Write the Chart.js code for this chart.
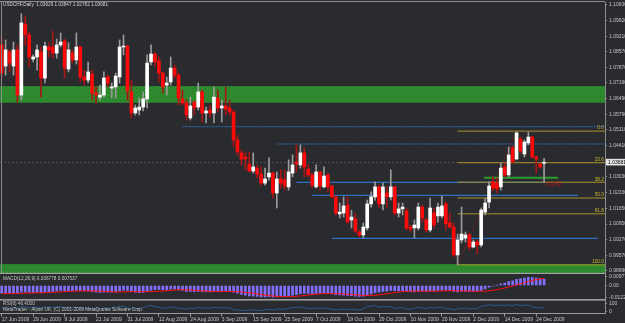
<!DOCTYPE html>
<html>
<head>
<meta charset="utf-8">
<script src="https://cdn.jsdelivr.net/npm/chart.js@4.4.1/dist/chart.umd.min.js"></script>
<style>
  html, body { margin: 0; padding: 0; background: #2a2b2e; }
  #wrap { position: relative; width: 625px; height: 323px; background: #2a2b2e; overflow: hidden; }
  .pane { position: absolute; left: 0; width: 625px; }
</style>
</head>
<body>
<div id="wrap">
  <div class="pane" style="top:0;height:274px"><canvas id="main"></canvas></div>
  <div class="pane" style="top:274px;height:25px"><canvas id="macd"></canvas></div>
  <div class="pane" style="top:299px;height:24px"><canvas id="rsi"></canvas></div>
</div>
<script>
// ---- USDCHF daily, 17 Jun 2009 .. 28 Dec 2009 (one entry per bar) ----
const opens = [1.0885,1.0792,1.0854,1.0792,1.0863,1.0664,1.0977,1.0929,1.0823,1.0832,
  1.0854,1.0739,1.0876,1.0876,1.0849,1.0885,1.0902,1.0779,1.0849,1.0819,
  1.0876,1.0744,1.0730,1.0757,1.0673,1.0655,1.0664,1.0744,1.0695,1.0700,
  1.0744,1.0876,1.0880,1.0678,1.0585,1.0598,1.0611,1.0647,1.0810,1.0845,
  1.0814,1.0761,1.0708,1.0722,1.0783,1.0752,1.0647,1.0629,1.0563,1.0633,
  1.0611,1.0678,1.0585,1.0598,1.0585,1.0651,1.0607,1.0616,1.0607,1.0589,
  1.0466,1.0409,1.0391,1.0360,1.0329,1.0342,1.0316,1.0276,1.0303,1.0320,
  1.0232,1.0294,1.0289,1.0259,1.0320,1.0369,1.0356,1.0409,1.0338,1.0312,
  1.0259,1.0325,1.0259,1.0312,1.0263,1.0215,1.0140,1.0144,1.0179,1.0113,
  1.0118,1.0060,1.0047,1.0078,1.0184,1.0215,1.0259,1.0184,1.0232,1.0215,
  1.0259,1.0144,1.0162,1.0153,1.0082,1.0078,1.0078,1.0170,1.0113,1.0069,
  1.0144,1.0131,1.0131,1.0184,1.0100,1.0082,0.9959,1.0025,1.0034,1.0047,
  0.9994,1.0016,1.0003,1.0148,1.0192,1.0281,1.0276,1.0259,1.0347,1.0312,
  1.0431,1.0382,1.0470,1.0404,1.0453,1.0479,1.0391,1.0360,1.03629];
const highs = [1.0920,1.0907,1.0863,1.0898,1.0885,1.1022,1.1013,1.0942,1.0841,1.0885,
  1.0876,1.0898,1.0894,1.0946,1.0911,1.0938,1.0911,1.0894,1.0863,1.0938,
  1.0880,1.0774,1.0810,1.0774,1.0700,1.0708,1.0766,1.0752,1.0717,1.0761,
  1.0907,1.0929,1.0885,1.0730,1.0620,1.0651,1.0678,1.0841,1.0885,1.0854,
  1.0832,1.0766,1.0744,1.0832,1.0797,1.0761,1.0686,1.0642,1.0655,1.0638,
  1.0717,1.0686,1.0611,1.0620,1.0700,1.0686,1.0642,1.0700,1.0642,1.0598,
  1.0488,1.0422,1.0413,1.0413,1.0409,1.0356,1.0347,1.0342,1.0387,1.0325,
  1.0325,1.0334,1.0334,1.0378,1.0400,1.0444,1.0444,1.0431,1.0356,1.0320,
  1.0356,1.0329,1.0347,1.0320,1.0267,1.0219,1.0188,1.0215,1.0215,1.0157,
  1.0144,1.0069,1.0100,1.0201,1.0237,1.0281,1.0267,1.0276,1.0259,1.0334,
  1.0263,1.0188,1.0188,1.0166,1.0091,1.0113,1.0188,1.0179,1.0122,1.0210,
  1.0166,1.0188,1.0219,1.0192,1.0144,1.0100,1.0051,1.0170,1.0060,1.0056,
  1.0025,1.0025,1.0166,1.0210,1.0281,1.0303,1.0298,1.0364,1.0364,1.0435,
  1.0439,1.0501,1.0479,1.0466,1.0501,1.0483,1.0395,1.0364,1.03847];
const lows = [1.0744,1.0752,1.0766,1.0752,1.0633,1.0642,1.0885,1.0788,1.0810,1.0774,
  1.0655,1.0717,1.0832,1.0827,1.0827,1.0876,1.0739,1.0766,1.0805,1.0801,
  1.0722,1.0708,1.0717,1.0642,1.0629,1.0642,1.0655,1.0700,1.0651,1.0651,
  1.0717,1.0841,1.0642,1.0563,1.0576,1.0576,1.0594,1.0607,1.0797,1.0792,
  1.0722,1.0673,1.0664,1.0708,1.0739,1.0620,1.0620,1.0554,1.0554,1.0576,
  1.0598,1.0545,1.0541,1.0567,1.0541,1.0589,1.0545,1.0576,1.0576,1.0435,
  1.0400,1.0356,1.0334,1.0325,1.0320,1.0298,1.0267,1.0267,1.0289,1.0210,
  1.0166,1.0254,1.0245,1.0245,1.0303,1.0325,1.0342,1.0303,1.0303,1.0254,
  1.0254,1.0245,1.0254,1.0237,1.0210,1.0135,1.0122,1.0126,1.0100,1.0078,
  1.0056,1.0038,1.0034,1.0069,1.0170,1.0201,1.0166,1.0157,1.0170,1.0201,
  1.0135,1.0126,1.0135,1.0069,1.0060,1.0034,1.0069,1.0104,1.0060,1.0060,
  1.0078,1.0104,1.0122,1.0069,1.0078,0.9950,0.9915,1.0012,1.0016,0.9981,
  0.9990,0.9963,0.9994,1.0135,1.0166,1.0241,1.0232,1.0245,1.0303,1.0303,
  1.0364,1.0378,1.0409,1.0391,1.0444,1.0387,1.0320,1.0342,1.02782];
const closes = [1.0761,1.0863,1.0805,1.0863,1.0664,1.0982,1.0929,1.0832,1.0832,1.0863,
  1.0739,1.0880,1.0863,1.0849,1.0885,1.0898,1.0783,1.0863,1.0819,1.0876,
  1.0744,1.0730,1.0766,1.0673,1.0664,1.0664,1.0739,1.0717,1.0700,1.0748,
  1.0876,1.0880,1.0682,1.0585,1.0607,1.0611,1.0647,1.0805,1.0845,1.0810,
  1.0761,1.0700,1.0717,1.0783,1.0752,1.0651,1.0629,1.0576,1.0616,1.0607,
  1.0678,1.0585,1.0594,1.0585,1.0655,1.0607,1.0616,1.0602,1.0589,1.0466,
  1.0413,1.0382,1.0382,1.0329,1.0347,1.0316,1.0276,1.0294,1.0320,1.0232,
  1.0294,1.0276,1.0263,1.0325,1.0356,1.0360,1.0409,1.0347,1.0312,1.0267,
  1.0325,1.0263,1.0307,1.0259,1.0215,1.0144,1.0148,1.0175,1.0104,1.0126,
  1.0065,1.0047,1.0082,1.0184,1.0215,1.0259,1.0184,1.0259,1.0215,1.0259,
  1.0144,1.0162,1.0170,1.0078,1.0073,1.0091,1.0170,1.0122,1.0069,1.0166,
  1.0091,1.0170,1.0175,1.0096,1.0082,0.9959,1.0025,1.0051,1.0047,0.9994,
  1.0016,1.0003,1.0157,1.0188,1.0263,1.0254,1.0250,1.0342,1.0312,1.0400,
  1.0369,1.0497,1.0417,1.0457,1.0479,1.0391,1.0382,1.0347,1.03681];

// MACD(12,26,9): main (histogram) and signal
const macdMain = [-0.0080,-0.0082,-0.0081,-0.0079,-0.0083,-0.0070,-0.0068,-0.0072,-0.0074,-0.0072,
  -0.0075,-0.0068,-0.0064,-0.0061,-0.0056,-0.0052,-0.0055,-0.0053,-0.0054,-0.0050,
  -0.0053,-0.0057,-0.0058,-0.0064,-0.0068,-0.0071,-0.0068,-0.0068,-0.0069,-0.0066,
  -0.0056,-0.0047,-0.0050,-0.0062,-0.0070,-0.0074,-0.0072,-0.0061,-0.0049,-0.0042,
  -0.0040,-0.0042,-0.0043,-0.0039,-0.0038,-0.0045,-0.0052,-0.0060,-0.0062,-0.0063,
  -0.0060,-0.0064,-0.0066,-0.0067,-0.0062,-0.0061,-0.0060,-0.0058,-0.0058,-0.0068,
  -0.0080,-0.0092,-0.0100,-0.0108,-0.0111,-0.0114,-0.0118,-0.0119,-0.0116,-0.0120,
  -0.0118,-0.0116,-0.0114,-0.0108,-0.0100,-0.0094,-0.0084,-0.0082,-0.0082,-0.0085,
  -0.0082,-0.0083,-0.0081,-0.0082,-0.0086,-0.0094,-0.0098,-0.0100,-0.0104,-0.0106,
  -0.0110,-0.0113,-0.0112,-0.0100,-0.0088,-0.0074,-0.0070,-0.0062,-0.0058,-0.0050,
  -0.0054,-0.0055,-0.0055,-0.0060,-0.0064,-0.0066,-0.0060,-0.0058,-0.0060,-0.0055,
  -0.0055,-0.0052,-0.0048,-0.0049,-0.0050,-0.0062,-0.0066,-0.0062,-0.0060,-0.0062,
  -0.0062,-0.0062,-0.0050,-0.0036,-0.0018,-0.0006,0.0004,0.0018,0.0026,0.0040,
  0.0048,0.0064,0.0070,0.0078,0.0086,0.0084,0.0078,0.0072,0.006778];
const macdSignal = [-0.0084,-0.0084,-0.0083,-0.0082,-0.0082,-0.0081,-0.0079,-0.0078,-0.0077,-0.0076,
  -0.0076,-0.0075,-0.0073,-0.0071,-0.0069,-0.0066,-0.0064,-0.0062,-0.0060,-0.0058,
  -0.0056,-0.0055,-0.0055,-0.0056,-0.0057,-0.0059,-0.0061,-0.0063,-0.0065,-0.0067,
  -0.0067,-0.0066,-0.0064,-0.0063,-0.0063,-0.0064,-0.0064,-0.0064,-0.0063,-0.0062,
  -0.0060,-0.0057,-0.0054,-0.0050,-0.0046,-0.0044,-0.0044,-0.0045,-0.0047,-0.0049,
  -0.0052,-0.0055,-0.0058,-0.0061,-0.0062,-0.0063,-0.0063,-0.0062,-0.0062,-0.0062,
  -0.0064,-0.0067,-0.0071,-0.0076,-0.0081,-0.0087,-0.0093,-0.0099,-0.0104,-0.0109,
  -0.0113,-0.0115,-0.0116,-0.0116,-0.0115,-0.0112,-0.0108,-0.0104,-0.0099,-0.0094,
  -0.0090,-0.0086,-0.0084,-0.0083,-0.0083,-0.0084,-0.0086,-0.0088,-0.0090,-0.0093,
  -0.0096,-0.0100,-0.0103,-0.0104,-0.0104,-0.0101,-0.0097,-0.0092,-0.0086,-0.0080,
  -0.0074,-0.0068,-0.0063,-0.0060,-0.0058,-0.0058,-0.0058,-0.0059,-0.0059,-0.0059,
  -0.0059,-0.0058,-0.0056,-0.0055,-0.0054,-0.0054,-0.0055,-0.0056,-0.0057,-0.0058,
  -0.0059,-0.0060,-0.0060,-0.0058,-0.0054,-0.0049,-0.0043,-0.0035,-0.0026,-0.0016,
  -0.0006,0.0006,0.0018,0.0030,0.0042,0.0053,0.0062,0.0069,0.007537];

// RSI(6)
const rsiValues = [38,52,45,55,35,62,58,48,50,55,
  42,56,55,52,57,59,45,54,50,55,
  42,40,47,33,32,33,45,42,43,50,
  66,66,44,34,38,40,46,68,72,62,
  52,42,45,55,50,40,37,32,42,40,
  52,42,44,43,52,46,48,45,43,25,
  20,16,16,15,22,18,14,22,30,20,
  32,30,28,42,50,50,58,45,40,32,
  45,38,46,38,30,22,25,32,24,30,
  22,20,35,58,66,72,52,65,55,64,
  40,46,48,32,30,38,55,45,35,55,
  42,52,55,38,36,20,35,40,42,32,
  38,35,64,72,82,76,74,82,70,84,
  70,86,72,76,80,55,52,44,46.4];

// axis labels
const priceTicks = [1.10630,1.09920,1.09210,1.08570,1.07870,1.07190,1.06490,1.05790,1.05110,
  1.04410,1.03030,1.02330,1.01650,1.00950,1.00270,0.99570,0.98890];
const macdTicks = [0.009776, 0, -0.012215];
const rsiTicks = [100, 0];
const timeTickBars = [0,8,16,24,32,40,48,56,64,72,80,88,96,104,112,120,128,136];
const timeTickLabels = ['17 Jun 2009','29 Jun 2009','9 Jul 2009','21 Jul 2009','31 Jul 2009',
  '12 Aug 2009','24 Aug 2009','3 Sep 2009','15 Sep 2009','25 Sep 2009','7 Oct 2009',
  '19 Oct 2009','29 Oct 2009','10 Nov 2009','20 Nov 2009','2 Dec 2009','14 Dec 2009','24 Dec 2009'];

// chart objects drawn on the price window
const supplyZones = [[1.07036, 1.06299], [0.99186, 0.9850]];
const dashedLevels = [[1.05245, 46], [1.04482, 70]];          // price, first bar (ray to the right)
const solidLevels = [[1.02793, 75, 137.7], [1.02219, 79, 146.6], [1.00323, 84, 151.7]];
const greenLevel = [1.02990, 122.7, 141.6];
const fibLow = [116, 0.9915], fibHigh = [131, 1.0505];
const fibLevels = [0, 23.6, 38.2, 50, 61.8, 100];
const fibLabels = ['0.0', '23.6', '38.2', '50.0', '61.8', '100.0'];

const xMin = -0.43, xMax = 153.5;
const FONT = '"Liberation Sans", Arial, sans-serif';
Chart.defaults.font.family = FONT;
Chart.defaults.color = '#c6c6c6';

function fixY(scale) { scale.width = 20; scale.paddingTop = 0; scale.paddingBottom = 0; }
function fixX(scale) { scale.height = 9.5; scale.paddingLeft = 0; scale.paddingRight = 0; }
function text(ctx, s, x, y, color, size, align) {
  ctx.save();
  ctx.font = size + 'px ' + FONT;
  ctx.fillStyle = color;
  ctx.textAlign = align || 'left';
  ctx.textBaseline = 'middle';
  ctx.fillText(s, x, y);
  ctx.restore();
}
function greenPattern(ctx) {
  const c = document.createElement('canvas');
  c.width = 4; c.height = 4;
  const g = c.getContext('2d');
  g.fillStyle = '#2f8c2f'; g.fillRect(0, 0, 4, 4);
  g.fillStyle = '#24702a'; g.fillRect(0, 0, 1, 1); g.fillRect(2, 2, 1, 1);
  return ctx.createPattern(c, 'repeat');
}
function yAxis(min, max, ticks, fmt) {
  return {
    position: 'right', min: min, max: max,
    afterBuildTicks: s => { s.ticks = ticks.map(v => ({ value: v })); },
    afterFit: fixY,
    ticks: { autoSkip: false, font: { size: 5 }, color: '#c6c6c6', padding: 2, callback: fmt },
    grid: { drawOnChartArea: false, tickLength: 2, color: '#8c8c8c' },
    border: { color: '#8c8c8c' }
  };
}
const baseOpts = { responsive: true, maintainAspectRatio: false, animation: false, events: [],
  plugins: { legend: { display: false }, tooltip: { enabled: false } } };

// ---------------- price window ----------------
const last = closes.length - 1;
const bull = i => closes[i] >= opens[i];
const fibPrice = lv => fibHigh[1] - (fibHigh[1] - fibLow[1]) * lv / 100;
const seg = (p, a, b) => [{ x: a, y: p }, { x: b, y: p }];
const lineDs = (data, color, dash, width) => ({ type: 'line', data: data, borderColor: color,
  borderWidth: width || 1, borderDash: dash || [], pointRadius: 0, order: 5 });

const levelSets = [];
dashedLevels.forEach(l => levelSets.push(lineDs(seg(l[0], l[1], xMax), '#2f6fbf', [2, 1])));
fibLevels.forEach(lv => levelSets.push(lineDs(seg(fibPrice(lv), fibLow[0], xMax), '#a8922c')));
solidLevels.forEach(l => levelSets.push(lineDs(seg(l[0], l[1], l[2]), '#2f82e6')));
levelSets.push(lineDs(seg(greenLevel[0], greenLevel[1], greenLevel[2]), '#2a9c2a', [], 2));
levelSets.push(lineDs([{ x: fibLow[0], y: fibLow[1] }, { x: fibHigh[0], y: fibHigh[1] }], '#c01010', [1, 2]));

const mainDecor = {
  id: 'mainDecor',
  beforeDatasetsDraw(chart) {
    const { ctx, chartArea: a, scales: { y } } = chart;
    ctx.save();
    ctx.beginPath(); ctx.rect(a.left, a.top, a.right - a.left, a.bottom - a.top); ctx.clip();
    ctx.fillStyle = greenPattern(ctx);
    supplyZones.forEach(z => {
      const t = y.getPixelForValue(z[0]), b = y.getPixelForValue(z[1]);
      ctx.fillRect(a.left, t, a.right - a.left, b - t);
    });
    const py = Math.round(y.getPixelForValue(closes[last])) + 0.5;
    ctx.strokeStyle = '#4c4c4c'; ctx.setLineDash([2, 2]); ctx.lineWidth = 1;
    ctx.beginPath(); ctx.moveTo(a.left, py); ctx.lineTo(a.right, py); ctx.stroke();
    ctx.restore();
  },
  afterDraw(chart) {
    const { ctx, chartArea: a, scales: { y } } = chart;
    ctx.save();
    ctx.fillStyle = '#8c8c8c';
    ctx.fillRect(0, 1, a.right, 1);
    ctx.fillRect(1, 1, 1, a.bottom - 1);
    ctx.fillStyle = '#a4a4a4';
    ctx.fillRect(0, a.bottom - 0.2, a.right + 1, 1.4);
    ctx.restore();
    text(ctx, 'USDCHF,Daily  ' + [opens[last], highs[last], lows[last], closes[last]].map(v => v.toFixed(5)).join(' '),
      3, 5, '#d6d6d6', 4.7);
    fibLevels.forEach((lv, i) => text(ctx, fibLabels[i], a.right - 1, y.getPixelForValue(fibPrice(lv)) - 3, '#cdb82e', 4.8, 'right'));
    text(ctx, lows[last].toFixed(5), 545, y.getPixelForValue(1.0270), '#c81414', 4.5);
    const cy = y.getPixelForValue(closes[last]);
    ctx.save();
    ctx.fillStyle = '#e6e6e6';
    ctx.fillRect(a.right + 1, cy - 3.3, 20, 6.6);
    ctx.restore();
    text(ctx, closes[last].toFixed(5), a.right + 3, cy, '#000000', 5);
  }
};

new Chart(document.getElementById('main'), {
  type: 'bar',
  data: {
    datasets: [
      { type: 'bar', data: opens.map((o, i) => ({ x: i, y: [lows[i], highs[i]] })),
        backgroundColor: opens.map((o, i) => bull(i) ? '#9a9a9a' : '#a81616'),
        barThickness: 1, grouped: false, order: 2 },
      { type: 'bar', data: opens.map((o, i) => ({ x: i, y: [Math.min(o, closes[i]), Math.max(o, closes[i])] })),
        backgroundColor: opens.map((o, i) => bull(i) ? '#ffffff' : '#ff0a0a'),
        barThickness: 3, minBarLength: 1, grouped: false, order: 1 }
    ].concat(levelSets)
  },
  options: Object.assign({}, baseOpts, {
    layout: { padding: { top: 2, bottom: 1, left: 0, right: 0 } },
    scales: {
      x: { type: 'linear', min: xMin, max: xMax, display: false, offset: false },
      y: yAxis(0.98793, 1.10744, priceTicks, v => v.toFixed(5))
    }
  }),
  plugins: [mainDecor]
});

// ---------------- MACD window ----------------
new Chart(document.getElementById('macd'), {
  type: 'bar',
  data: {
    datasets: [
      { type: 'line', data: macdSignal.map((v, i) => ({ x: i, y: v })), borderColor: '#ff1010',
        borderWidth: 1, pointRadius: 0, order: 1 },
      { type: 'bar', data: macdMain.map((v, i) => ({ x: i, y: v })), backgroundColor: '#8470ff',
        barThickness: 2, order: 2 }
    ]
  },
  options: Object.assign({}, baseOpts, {
    layout: { padding: { top: 0.5, bottom: 0.5, left: 0, right: 0 } },
    scales: {
      x: { type: 'linear', min: xMin, max: xMax, display: false, offset: false },
      y: yAxis(-0.0135, 0.0115, macdTicks, v => v === 0 ? '0.00' : v.toFixed(6))
    }
  }),
  plugins: [{
    id: 'macdText',
    afterDraw(chart) {
      text(chart.ctx, 'MACD(12,26,9) ' + macdMain[last].toFixed(6) + ' ' + macdSignal[last].toFixed(6),
        3, 5, '#c6c6c6', 4.7);
    }
  }]
});

// ---------------- RSI window + time axis ----------------
new Chart(document.getElementById('rsi'), {
  type: 'line',
  data: {
    datasets: [
      { data: rsiValues.map((v, i) => ({ x: i, y: v })), borderColor: '#2a5a8e', borderWidth: 1, pointRadius: 0 }
    ]
  },
  options: Object.assign({}, baseOpts, {
    layout: { padding: { top: 1.5, bottom: 0, left: 0, right: 0 } },
    scales: {
      x: {
        type: 'linear', position: 'bottom', min: xMin, max: xMax, offset: false,
        afterBuildTicks: s => { s.ticks = timeTickBars.map(v => ({ value: v })); },
        afterFit: fixX,
        ticks: { autoSkip: false, maxRotation: 0, align: 'start', padding: 0, font: { size: 5 }, color: '#c6c6c6',
          callback: (v, i) => timeTickLabels[i] },
        grid: { drawOnChartArea: false, tickLength: 3, color: '#9a9a9a' },
        border: { color: '#9a9a9a' }
      },
      y: yAxis(-21, 133, rsiTicks, v => String(v))
    }
  }),
  plugins: [{
    id: 'rsiText',
    beforeDraw(chart) {
      const ctx = chart.ctx;
      ctx.save();
      ctx.fillStyle = '#9c9c9c';
      ctx.fillRect(0, 0, chart.chartArea.right + 1, 1.6);
      ctx.restore();
    },
    afterDraw(chart) {
      text(chart.ctx, 'RSI(6) ' + rsiValues[last].toFixed(4), 3, 5, '#c6c6c6', 4.7);
      text(chart.ctx, 'MetaTrader - Alpari UK, (C) 2001-2009 MetaQuotes Software Corp.', 3, 10.5, '#c6c6c6', 4.7);
    }
  }]
});
</script>
</body>
</html>
